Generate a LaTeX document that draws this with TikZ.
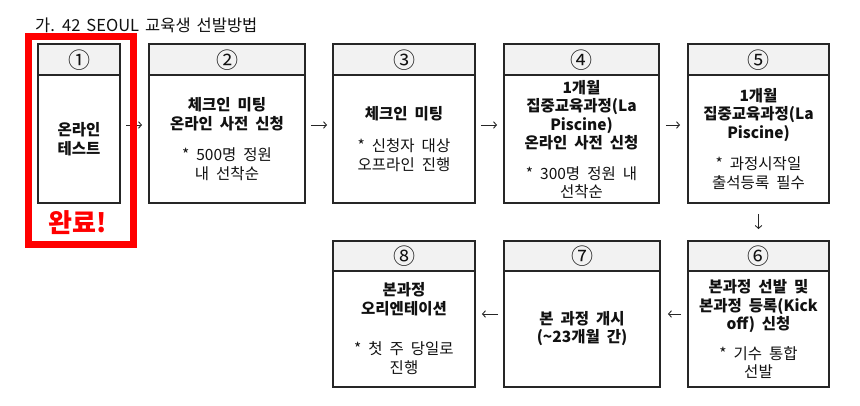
\documentclass[tikz,border=0pt]{standalone}
\usepackage{fontspec}
\usetikzlibrary{arrows.meta}
\newfontfamily\kr{Noto Sans CJK KR}
\newfontfamily\krt{Noto Sans CJK KR}
\newcommand\bodysp{\spaceskip 7pt plus 1pt\relax}
\newcommand\titlesp{\spaceskip 6pt\relax}
\definecolor{boxc}{HTML}{262626}
\definecolor{hdr}{HTML}{F2F2F2}
\definecolor{txt}{HTML}{111111}
\definecolor{redc}{HTML}{FF0000}
\tikzset{
  flowbox/.style n args={3}{draw=boxc, line width=1.8pt, fill=white,
    minimum width=#1, minimum height=#2, inner sep=0pt,
    path picture={
      \fill[hdr] (path picture bounding box.north west) rectangle ([yshift=-#3]path picture bounding box.north east);
      \draw[boxc, line width=1.3pt] ([yshift=-#3]path picture bounding box.north west) -- ([yshift=-#3]path picture bounding box.north east);
    }},
  numtxt/.style={text=txt, inner sep=0pt, font=\krt\fontsize{22}{22}\selectfont},
  bodytxt/.style={text=txt, inner sep=0pt, align=center, font={\kr\fontsize{15.5}{19}\selectfont\bodysp}},
  arr/.style={draw=boxc, line width=0.9pt, -{Straight Barb[length=3pt,width=6.5pt]}},
}
\begin{document}
\begin{tikzpicture}[x=1pt,y=-1pt]
\useasboundingbox (0,0) rectangle (860,406);
% title
\node[anchor=base west, inner sep=0pt, text=txt, font={\krt\fontsize{16.5}{18}\selectfont\titlesp}] (title) at (35,32) {가. 42 SEOUL 교육생 선발방법};
% top row boxes
\node[flowbox={82pt}{159pt}{31pt}] (b1) at (79,123.5) {};
\node[flowbox={156pt}{159pt}{31pt}] (b2) at (227,123.5) {};
\node[flowbox={142pt}{159pt}{31pt}] (b3) at (404,123.5) {};
\node[flowbox={155pt}{159pt}{31pt}] (b4) at (581.5,123.5) {};
\node[flowbox={141pt}{159pt}{31pt}] (b5) at (758.5,123.5) {};
% bottom row boxes
\node[flowbox={142pt}{146pt}{30pt}] (b8) at (404,314) {};
\node[flowbox={156pt}{146pt}{30pt}] (b7) at (582,314) {};
\node[flowbox={141pt}{146pt}{30pt}] (b6) at (758.5,314) {};
% numbers
\node[numtxt] (n1) at (79,60) {①};
\node[numtxt] (n2) at (227,60) {②};
\node[numtxt] (n3) at (404,60) {③};
\node[numtxt] (n4) at (581.5,60) {④};
\node[numtxt] (n5) at (758.5,60) {⑤};
\node[numtxt] (n8) at (404,256.5) {⑧};
\node[numtxt] (n7) at (582,256.5) {⑦};
\node[numtxt] (n6) at (758.5,256.5) {⑥};
% body texts
\node[bodytxt] (t1) at (79,139) {\bfseries 온라인\\\bfseries 테스트};
\node[bodytxt] (t2) at (227,139) {\bfseries 체크인 미팅\\\bfseries 온라인 사전 신청\\[12pt] * 500명 정원\\ 내 선착순};
\node[bodytxt] (t3) at (404,139) {\bfseries 체크인 미팅\\[13pt] * 신청자 대상\\ 오프라인 진행};
\node[bodytxt, font={\kr\fontsize{15.5}{18.4}\selectfont\bodysp}] (t4) at (581.5,139.5) {\bfseries 1개월\\\bfseries 집중교육과정(La\\\bfseries Piscine)\\\bfseries 온라인 사전 신청\\[12pt] * 300명 정원 내\\ 선착순};
\node[bodytxt, font={\kr\fontsize{15.5}{18.5}\selectfont\bodysp}] (t5) at (758.5,139) {\bfseries 1개월\\\bfseries 집중교육과정(La\\\bfseries Piscine)\\[13pt] * 과정시작일\\ 출석등록 필수};
\node[bodytxt] (t8) at (404,329) {\bfseries 본과정\\\bfseries 오리엔테이션\\[21pt] * 첫 주 당일로\\ 진행};
\node[bodytxt, font={\kr\fontsize{15.5}{18}\selectfont\bodysp}] (t7) at (582,329) {\bfseries 본 과정 개시\\\bfseries (\textasciitilde 23개월 간)};
\node[bodytxt, font={\kr\fontsize{15.5}{18.5}\selectfont\bodysp}] (t6) at (758.5,329) {\bfseries 본과정 선발 및\\\bfseries 본과정 등록(Kick\\\bfseries off) 신청\\[11pt] * 기수 통합\\ 선발};
% connectors
\draw[arr, shorten <=5.5pt, shorten >=6pt] ([yshift=-1.5pt]b1.east) -- ([yshift=-1.5pt]b2.west);
\draw[arr, shorten <=5pt, shorten >=5pt] ([yshift=-1.5pt]b2.east) -- ([yshift=-1.5pt]b3.west);
\draw[arr, shorten <=5pt, shorten >=6pt] ([yshift=-1.5pt]b3.east) -- ([yshift=-1.5pt]b4.west);
\draw[arr, shorten <=6pt, shorten >=7pt] ([yshift=-1.5pt]b4.east) -- ([yshift=-1.5pt]b5.west);
\draw[arr, shorten <=10pt, shorten >=11pt] (b5.south) -- (b6.north);
\draw[arr, shorten <=6pt, shorten >=7pt] (b6.west) -- (b7.east);
\draw[arr, shorten <=5pt, shorten >=6pt] (b7.west) -- (b8.east);
% completed marker
\node[draw=redc, line width=7pt, minimum width=105pt, minimum height=208pt, inner sep=0pt] (done) at (81,140.5) {};
\node[text=redc, inner sep=0pt, font=\krt\bfseries\fontsize{26}{26}\selectfont] (donetxt) at (78,223) {완료!};
\end{tikzpicture}
\end{document}
